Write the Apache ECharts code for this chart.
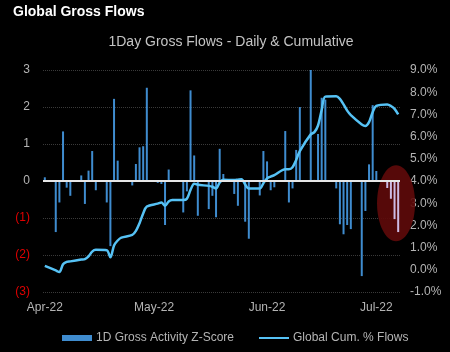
<!DOCTYPE html>
<html>
<head>
<meta charset="utf-8">
<script src="https://cdn.jsdelivr.net/npm/echarts@6/dist/echarts.min.js"></script>
<style>
  html, body { margin: 0; padding: 0; background: #000; }
  #chart { width: 450px; height: 352px; }
</style>
</head>
<body>
<div id="chart"></div>
<script>
// trading days (2022, MM-DD)
const days = [
  '04-01', '04-04', '04-05', '04-06', '04-07', '04-08', '04-11', '04-12', '04-13', '04-14', '04-15',
  '04-18', '04-19', '04-20', '04-21', '04-22', '04-25', '04-26', '04-27', '04-28', '04-29',
  '05-02', '05-03', '05-04', '05-05', '05-06', '05-09', '05-10', '05-11', '05-12', '05-13',
  '05-16', '05-17', '05-18', '05-19', '05-20', '05-23', '05-24', '05-25', '05-26', '05-27', '05-30', '05-31',
  '06-01', '06-02', '06-03', '06-06', '06-07', '06-08', '06-09', '06-10', '06-13', '06-14', '06-15',
  '06-16', '06-17', '06-20', '06-21', '06-22', '06-23', '06-24', '06-27', '06-28', '06-29', '06-30',
  '07-01', '07-04', '07-05', '07-06', '07-07'
];
const zScore = [
  0.10, -1.38, -0.58, 1.34, -0.18, -0.40, 0.15, -0.62, 0.28, 0.81, -0.25,
  -0.58, -1.76, 2.22, 0.55, 0.02, -0.12, 0.46, 0.91, 0.94, 2.52,
  -0.05, -0.08, -1.19, 0.31, 0.02, -0.85, -0.28, 2.45, 0.69, -0.94,
  -0.76, -0.40, -0.98, 0.87, 0.19, -0.35, -0.67, 0.02, -1.10, -1.56, -0.39, 0.81,
  0.53, -0.25, -0.17, 1.35, -0.58, -0.20, 0.84, 2.00, 3.05, 0.03, 1.27,
  2.25, 2.20, -0.20, -1.17, -1.44, -1.19, -1.30, -2.57, -0.81, 0.45, 2.05,
  0.27, -0.19, -0.48, -1.03, -1.38
];
const cumFlows = [
  0.18, -0.03, -0.10, 0.25, 0.36, 0.38, 0.46, 0.48, 0.60, 0.82, 0.90,
  0.88, 0.56, 1.10, 1.32, 1.45, 1.57, 1.75, 2.10, 2.54, 2.85,
  2.98, 3.03, 2.88, 3.08, 3.14, 3.14, 3.20, 3.60, 3.88, 3.83,
  3.78, 3.74, 3.66, 3.93, 4.06, 4.04, 4.06, 4.08, 3.84, 3.66, 3.66, 3.90,
  4.12, 4.20, 4.26, 4.53, 4.53, 4.62, 4.95, 5.35, 6.10, 6.20, 6.50,
  7.20, 7.80, 7.82, 7.70, 7.45, 7.17, 6.97, 6.55, 6.48, 6.65, 7.10,
  7.38, 7.45, 7.38, 7.25, 7.00
];
const highlightDays = ['07-04', '07-05', '07-06', '07-07'];
const monthStarts = ['04-01', '05-01', '06-01', '07-01'];
const monthLabels = ['Apr-22', 'May-22', 'Jun-22', 'Jul-22'];
const leftTicks = [-3, -2, -1, 0, 1, 2, 3];
const rightTicks = [-1, 0, 1, 2, 3, 4, 5, 6, 7, 8, 9];

// calendar axis: every day from first to last trading day
const pad = n => String(n).padStart(2, '0');
const calendar = [];
for (let d = new Date(Date.UTC(2022, 3, 1)); d <= new Date(Date.UTC(2022, 6, 7)); d.setUTCDate(d.getUTCDate() + 1)) {
  calendar.push(pad(d.getUTCMonth() + 1) + '-' + pad(d.getUTCDate()));
}
const barData = calendar.map(c => {
  const i = days.indexOf(c);
  if (i < 0) return null;
  if (highlightDays.includes(c)) return { value: zScore[i], itemStyle: { color: '#cdbbe4' } };
  return zScore[i];
});
const lineData = calendar.map(c => {
  const i = days.indexOf(c);
  return i < 0 ? null : cumFlows[i];
});

const FONT = '"Liberation Sans", Arial, sans-serif';
const labelGray = '#b4b4b4';

const chart = echarts.init(document.getElementById('chart'));
chart.setOption({
  backgroundColor: '#000',
  animation: false,
  grid: { left: 43, right: 50, top: 70, bottom: 60 },
  legend: {
    left: 57, top: 327, itemWidth: 30, itemHeight: 6, itemGap: 25,
    textStyle: { color: labelGray, fontSize: 12, fontFamily: FONT, padding: [0, 0, 0, -1] },
    data: [
      { name: '1D Gross Activity Z-Score', icon: 'rect' },
      // thin line swatch, no marker
      { name: 'Global Cum. % Flows', icon: 'path://M0,0L0,0M0,2L30,2L30,4L0,4ZM30,6L30,6' }
    ]
  },
  xAxis: {
    type: 'category', data: calendar, boundaryGap: true,
    axisLine: { show: false }, axisTick: { show: false },
    axisLabel: {
      color: labelGray, fontSize: 12, fontFamily: FONT, margin: 10,
      interval: (i, v) => monthStarts.includes(v),
      formatter: v => monthLabels[monthStarts.indexOf(v)] || ''
    },
    splitLine: { show: false }
  },
  yAxis: [
    {
      type: 'value', min: leftTicks[0], max: leftTicks[leftTicks.length - 1], interval: 1,
      axisLine: { show: false }, axisTick: { show: false },
      axisLabel: {
        fontSize: 12, fontFamily: FONT, margin: 13,
        color: v => (v < 0 ? '#e00000' : labelGray),
        formatter: v => (v < 0 ? '(' + Math.abs(v) + ')' : String(v))
      },
      splitLine: { lineStyle: { color: '#3a3a3a', type: 'dotted', width: 1 } }
    },
    {
      type: 'value', min: rightTicks[0], max: rightTicks[rightTicks.length - 1], interval: 1,
      position: 'right',
      axisLine: { show: false }, axisTick: { show: false },
      axisLabel: { color: labelGray, fontSize: 12, fontFamily: FONT, margin: 10, formatter: v => v.toFixed(1) + '%' },
      splitLine: { show: false }
    }
  ],
  series: [
    {
      name: '1D Gross Activity Z-Score', type: 'bar', barWidth: 2, data: barData,
      itemStyle: { color: '#3f8ccf' },
      markLine: {
        silent: true, symbol: ['none', 'none'], label: { show: false },
        lineStyle: { color: '#e6e6e6', width: 2, type: 'solid' },
        data: [{ yAxis: 0 }]
      }
    },
    {
      name: 'Global Cum. % Flows', type: 'line', yAxisIndex: 1, data: lineData,
      connectNulls: true, smooth: 0.3, symbol: 'none',
      lineStyle: { width: 2.5, color: '#56c2f5' }, itemStyle: { color: '#56c2f5' }
    }
  ]
});

// red highlight ellipse around the last few bars
const p = chart.convertToPixel({ gridIndex: 0 }, [calendar.indexOf('07-06'), -0.6]);
chart.setOption({
  graphic: [
    { type: 'ellipse', z: 1, shape: { cx: p[0] + 1.5, cy: p[1], rx: 19, ry: 38 }, style: { fill: 'rgba(95,10,10,0.9)' } },
    { type: 'text', x: 13, y: 12, style: { text: 'Global Gross Flows', fill: '#fff', font: 'bold 14px ' + FONT, textVerticalAlign: 'middle' } },
    { type: 'text', x: 231, y: 42, style: { text: '1Day Gross Flows - Daily & Cumulative', fill: '#c4c4c4', font: '14px ' + FONT, textAlign: 'center', textVerticalAlign: 'middle' } }
  ]
});
</script>
</body>
</html>
